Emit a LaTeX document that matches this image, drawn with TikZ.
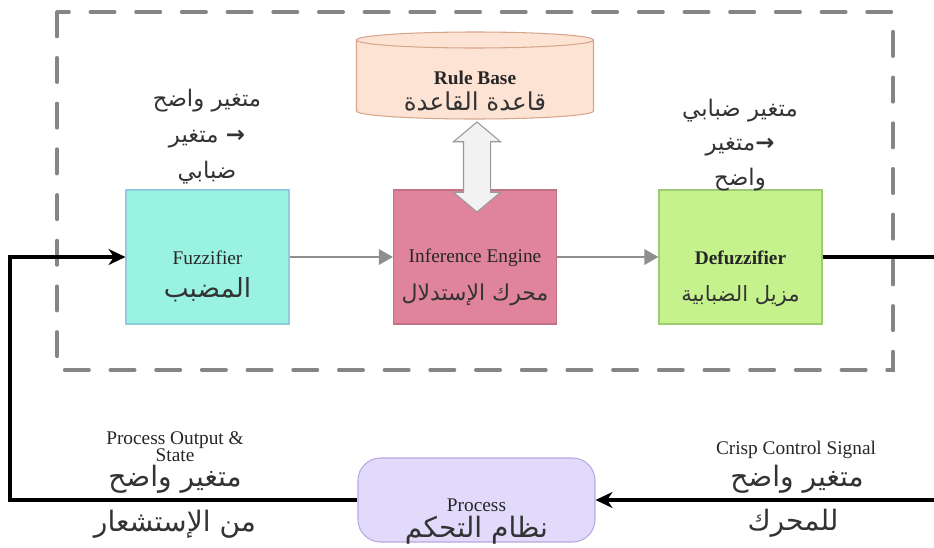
\documentclass[tikz,border=0pt]{standalone}
\usepackage{fontspec}
\setmainfont{Liberation Serif}
\newfontfamily\arabicfont[Script=Arabic]{DejaVu Sans}
\TeXXeTstate=1
\usetikzlibrary{positioning,arrows.meta,shapes.geometric,shapes.arrows}
\definecolor{fzfill}{HTML}{9AF2E2}
\definecolor{fzline}{HTML}{8CCDE0}
\definecolor{iefill}{HTML}{E0849C}
\definecolor{ieline}{HTML}{C27285}
\definecolor{dffill}{HTML}{C5F28D}
\definecolor{dfline}{HTML}{9CCB72}
\definecolor{rbfill}{HTML}{FDE3D3}
\definecolor{rbline}{HTML}{D6A58C}
\definecolor{prfill}{HTML}{E2DAFA}
\definecolor{prline}{HTML}{B8A8E2}
\definecolor{framegray}{HTML}{858585}
\definecolor{flowgray}{HTML}{8E8E8E}
\tikzset{
  blk/.style ={rectangle, minimum width=3.26cm, minimum height=2.68cm, inner sep=0pt, line width=0.6pt},
  en/.style  ={align=center, font=\fontsize{11}{18}\selectfont, text=black!85},
  ara/.style ={align=center, font=\arabicfont\fontsize{#1}{20}\selectfont, text=black!80},
  ara/.default=13,
  flow/.style={-{Triangle[length=2.8mm,width=3mm]}, line width=1.7pt, draw=flowgray},
  sig/.style ={-{Stealth[length=3.4mm,width=3.2mm]}, line width=1.8pt, black},
  frame/.style={draw=framegray, line width=1.9pt, line cap=round, dash pattern=on 14pt off 12pt},
}
\begin{document}
\begin{tikzpicture}
  \useasboundingbox (0,0) rectangle (18.68,-10.94);
  \draw[frame] (1.14,-0.24) rectangle (17.86,-7.40);

  % rule base and the exchange arrow
  \filldraw[draw=rbline, fill=rbfill, line width=0.6pt] (7.13,-0.8) -- (7.13,-2.22)
    arc[start angle=180, end angle=360, x radius=2.37, y radius=0.16] -- (11.87,-0.8)
    arc[start angle=0, end angle=180, x radius=2.37, y radius=0.16] -- cycle;
  \draw[rbline, line width=0.6pt] (7.13,-0.8) arc[start angle=180, end angle=360, x radius=2.37, y radius=0.16];
  \node[en, font=\fontsize{11}{18}\selectfont\bfseries] (rbEn) at (9.5,-1.56) {Rule Base};
  \node[ara=14] (rbAr) at (9.5,-2.04) {\beginR قاعدة القاعدة\endR};

  % blocks
  \node[blk, draw=fzline, fill=fzfill] (fz)  at (4.15,-5.14) {};
  \node[blk, draw=ieline, fill=iefill] (ie)  at (9.5,-5.14) {};
  \node[blk, draw=dfline, fill=dffill] (dfz) at (14.81,-5.14) {};
  \node[double arrow, draw=black!40, fill=black!5, line width=0.6pt, rotate=90,
        minimum height=1.8cm, inner xsep=0pt, inner ysep=0.26cm, double arrow head extend=0.2cm,
        double arrow tip angle=100] (xch) at (9.54,-3.34) {};

  \node[en] (fzEn) at (4.15,-5.16) {Fuzzifier};
  \node[ara=15] (fzAr) at (4.15,-5.8) {\beginR المضبب\endR};
  \node[en] (ieEn) at (9.5,-5.16) {Inference Engine};
  \node[ara=12.5] (ieAr) at (9.5,-5.9) {\beginR محرك الإستدلال\endR};
  \node[en, font=\fontsize{11}{18}\selectfont\bfseries] (dfEn) at (14.81,-5.16) {Defuzzifier};
  \node[ara=12] (dfAr) at (14.81,-5.92) {\beginR مزيل الضبابية\endR};

  % process
  \node[rectangle, rounded corners=0.45cm, draw=prline, fill=prfill, line width=0.6pt,
        minimum width=4.74cm, minimum height=1.68cm] (pr) at (9.53,-10.0) {};
  \node[en] (prEn) at (9.53,-10.1) {Process};
  \node[ara=16] (prAr) at (9.53,-10.6) {\beginR نظام التحكم\endR};

  % labels
  \node[ara=13, font=\arabicfont\fontsize{13}{20.5}\selectfont] (tl) at (4.14,-2.74)
    {\beginR متغير واضح\endR\\\beginR \textbf{→} متغير\endR\\\beginR ضبابي\endR};
  \node[ara=13, font=\arabicfont\fontsize{13}{19.5}\selectfont] (tr) at (14.8,-2.9)
    {\beginR متغير ضبابي\endR\\\beginR \textbf{→}متغير\endR\\\beginR واضح\endR};
  \node[en, font=\fontsize{11}{10}\selectfont] (blEn) at (3.5,-8.93) {Process Output \&\\State};
  \node[ara=16] (blAr) at (3.5,-9.58) {\beginR متغير واضح\endR};
  \node[ara=16] (blAr2) at (3.5,-10.48) {\beginR من الإستشعار\endR};
  \node[en] (brEn) at (15.92,-9.0) {Crisp Control Signal};
  \node[ara=16] (brAr) at (15.94,-9.58) {\beginR متغير واضح\endR};
  \node[ara=16] (brAr2) at (15.86,-10.46) {\beginR للمحرك\endR};

  % signal flow
  \coordinate (rt) at (18.78,-5.14);
  \coordinate (lt) at (0.2,-5.14);
  \draw[flow] (fz.east) -- (ie.west);
  \draw[flow] (ie.east) -- (dfz.west);
  \draw[sig] (dfz.east) -- (rt) |- (pr.east);
  \draw[sig] (pr.west) -| (lt) -- (fz.west);
\end{tikzpicture}
\end{document}
